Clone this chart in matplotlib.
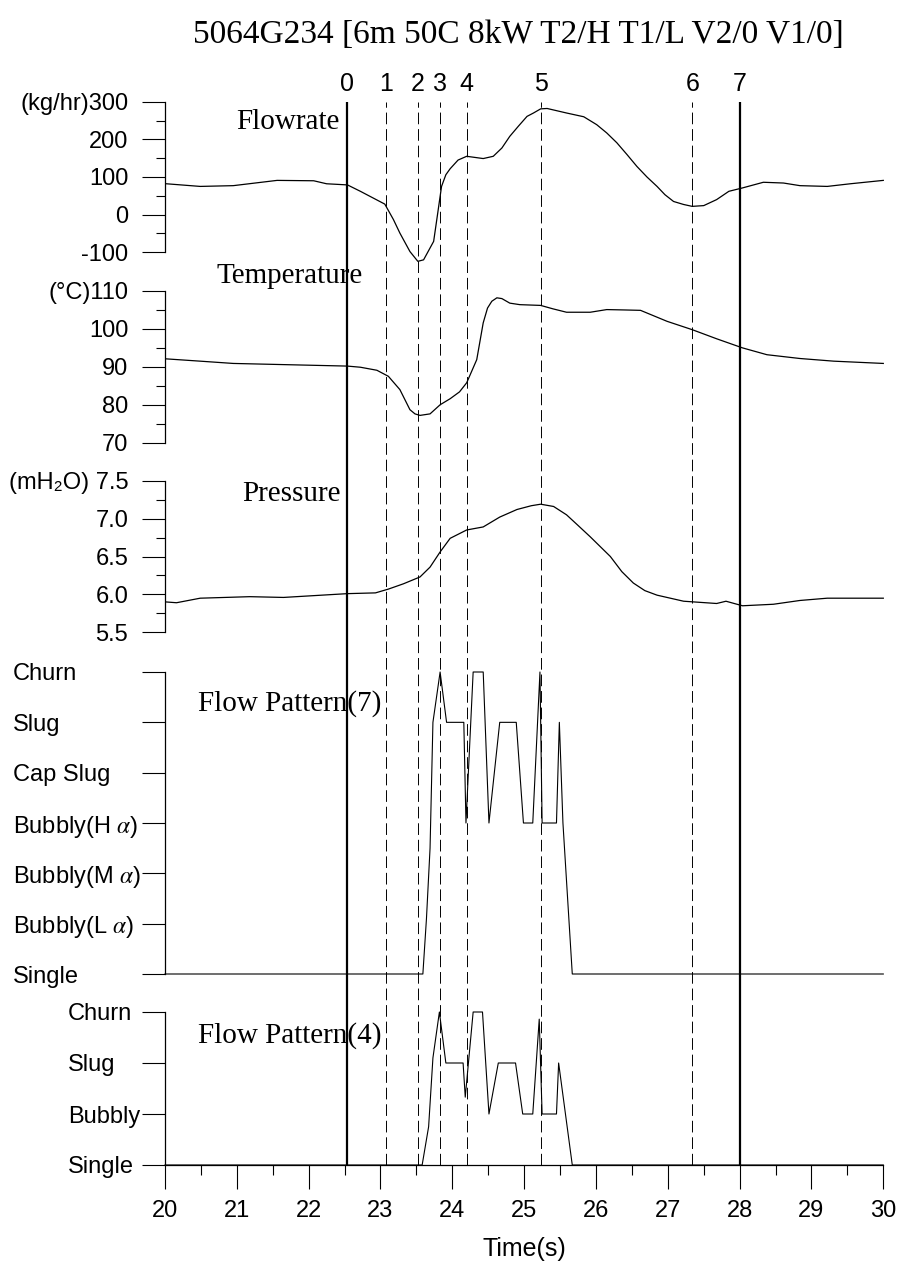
import matplotlib.pyplot as plt
from matplotlib.ticker import MultipleLocator
from matplotlib.transforms import blended_transform_factory

plt.rcParams['font.family'] = ['Liberation Sans', 'DejaVu Sans']
plt.rcParams['mathtext.fontset'] = 'stix'

title = '5064G234 [6m 50C 8kW T2/H T1/L V2/0 V1/0]'

# event markers along the time axis
event_t = [22.53, 23.08, 23.52, 23.83, 24.20, 25.23, 27.34, 28.00]
event_lbl = ['0', '1', '2', '3', '4', '5', '6', '7']

# flowrate (kg/hr)
flow_t = [20.02, 20.49, 20.95, 21.56, 22.07, 22.25, 22.54, 22.72, 22.90, 23.06,
          23.18, 23.27, 23.41, 23.52, 23.60, 23.74, 23.79, 23.85, 23.91, 23.97,
          24.08, 24.20, 24.43, 24.57, 24.69, 24.80, 24.92, 25.04, 25.13, 25.23,
          25.32, 25.59, 25.83, 26.01, 26.15, 26.29, 26.43, 26.57, 26.71, 26.85,
          26.96, 27.08, 27.22, 27.34, 27.50, 27.68, 27.85, 28.04, 28.33, 28.61,
          28.84, 29.22, 29.54, 30.00]
flow_v = [82, 75, 77, 91, 90, 82, 79, 62, 44, 28,
          -13, -49, -98, -124, -120, -71, -5, 75, 106, 122,
          145, 155, 149, 155, 177, 208, 235, 261, 270, 281,
          282, 270, 260, 239, 217, 191, 160, 128, 100, 75,
          53, 35, 27, 22, 24, 40, 62, 71, 86, 84,
          77, 75, 82, 91]

# temperature (C)
temp_t = [20.02, 20.49, 20.95, 22.54, 22.72, 22.95, 23.11, 23.27, 23.41, 23.48,
          23.55, 23.69, 23.83, 23.97, 24.10, 24.20, 24.34, 24.43, 24.49, 24.55,
          24.62, 24.69, 24.80, 24.94, 25.23, 25.40, 25.59, 25.92, 26.15, 26.40,
          26.62, 26.99, 27.34, 27.68, 28.04, 28.38, 28.84, 29.31, 30.00]
temp_v = [92.1, 91.5, 90.9, 90.2, 89.9, 89.1, 87.5, 84.0, 78.7, 77.6,
          77.2, 77.6, 80.0, 81.6, 83.4, 85.8, 91.9, 101.6, 105.5, 107.3,
          108.2, 108.0, 106.8, 106.4, 106.2, 105.3, 104.4, 104.4, 105.1, 105.0,
          104.9, 102.0, 99.8, 97.4, 95.0, 93.2, 92.2, 91.5, 90.9]

# pressure (mH2O)
pres_t = [20.02, 20.16, 20.49, 21.18, 21.65, 22.54, 22.93, 23.11, 23.32, 23.55,
          23.69, 23.83, 23.97, 24.20, 24.43, 24.66, 24.90, 25.10, 25.23, 25.41,
          25.59, 25.75, 25.92, 26.20, 26.36, 26.52, 26.68, 26.85, 27.22, 27.68,
          27.81, 28.04, 28.47, 28.84, 29.22, 30.00]
pres_v = [5.90, 5.89, 5.95, 5.97, 5.96, 6.01, 6.02, 6.07, 6.14, 6.23,
          6.36, 6.56, 6.74, 6.85, 6.89, 7.02, 7.12, 7.17, 7.19, 7.16,
          7.05, 6.91, 6.76, 6.50, 6.30, 6.15, 6.05, 5.99, 5.91, 5.88,
          5.91, 5.85, 5.87, 5.92, 5.95, 5.95]

# flow pattern, 7 classes
fp7_names = ['Single', 'Bubbly(L $\\alpha$)', 'Bubbly(M $\\alpha$)', 'Bubbly(H $\\alpha$)',
             'Cap Slug', 'Slug', 'Churn']
fp7_t = [20.00, 23.59, 23.64, 23.69, 23.73, 23.83, 23.92, 24.16, 24.19, 24.29,
         24.43, 24.51, 24.66, 24.89, 24.99, 25.12, 25.22, 25.25, 25.45, 25.49,
         25.54, 25.67, 30.00]
fp7_v = [0, 0, 1.1, 2.5, 5, 6, 5, 5, 3, 6,
         6, 3, 5, 5, 3, 3, 6, 3, 3, 5,
         3, 0, 0]

# flow pattern, 4 classes
fp4_names = ['Single', 'Bubbly', 'Slug', 'Churn']
fp4_t = [20.00, 23.58, 23.67, 23.73, 23.82, 23.91, 24.15, 24.18, 24.29, 24.42,
         24.51, 24.64, 24.88, 24.98, 25.12, 25.21, 25.25, 25.45, 25.48, 25.67,
         30.00]
fp4_v = [0, 0, 0.75, 2.1, 3, 2, 2, 1.33, 3, 3,
         1, 2, 2, 1, 1, 2.86, 1, 1, 2, 0,
         0]

W, H = 899, 1264
X0, X1 = 165, 883.3
fig = plt.figure(figsize=(W / 100, H / 100), dpi=100)
serif = ['Liberation Serif', 'DejaVu Serif']


def panel(top, bot):
    ax = fig.add_axes([X0 / W, 1 - bot / H, (X1 - X0) / W, (bot - top) / H])
    ax.set_facecolor('none')
    ax.set_xlim(20, 30)
    for s in ['top', 'right', 'bottom']:
        ax.spines[s].set_visible(False)
    ax.spines['left'].set_linewidth(0.9)
    ax.tick_params(axis='y', which='major', direction='out', length=16.5,
                   width=0.8, pad=10, labelsize=17)
    ax.tick_params(axis='y', which='minor', direction='out', length=6.5, width=0.8)
    ax.tick_params(axis='x', which='both', bottom=False, labelbottom=False)
    return ax


# event lines behind everything
ax_ev = fig.add_axes([X0 / W, 1 - 1165 / H, (X1 - X0) / W, (1165 - 101.7) / H])
ax_ev.set_xlim(20, 30)
ax_ev.set_ylim(0, 1)
ax_ev.axis('off')
for i, (t, lbl) in enumerate(zip(event_t, event_lbl)):
    if i in (0, 7):
        ax_ev.axvline(t, color='black', lw=1.6)
    else:
        ax_ev.axvline(t, color='black', lw=0.7, linestyle=(0, (12, 5)))
    ax_ev.text(t, 1.017, lbl, ha='center', va='center', fontsize=18,
               transform=blended_transform_factory(ax_ev.transData, ax_ev.transAxes))

# flowrate
ax_f = panel(101.7, 252.3)
ax_f.set_ylim(-100, 300)
ax_f.set_yticks([-100, 0, 100, 200, 300])
ax_f.set_yticklabels(['-100', '0', '100', '200', '(kg/hr)300'])
ax_f.yaxis.set_minor_locator(MultipleLocator(50))
ax_f.plot(flow_t, flow_v, color='black', lw=0.9, clip_on=False)
ax_f.text(20.99, 247, 'Flowrate', family=serif, fontsize=21, va='center')

# temperature
ax_t = panel(291, 442.7)
ax_t.set_ylim(70, 110)
ax_t.set_yticks([70, 80, 90, 100, 110])
ax_t.set_yticklabels(['70', '80', '90', '100', '(°C)110'])
ax_t.yaxis.set_minor_locator(MultipleLocator(5))
ax_t.plot(temp_t, temp_v, color='black', lw=0.9, clip_on=False)
ax_t.text(20.72, 113.9, 'Temperature', family=serif, fontsize=21, va='center')

# pressure
ax_p = panel(480.7, 632.3)
ax_p.set_ylim(5.5, 7.5)
ax_p.set_yticks([5.5, 6.0, 6.5, 7.0, 7.5])
ax_p.set_yticklabels(['5.5', '6.0', '6.5', '7.0', '(mH₂O) 7.5'])
ax_p.yaxis.set_minor_locator(MultipleLocator(0.25))
ax_p.plot(pres_t, pres_v, color='black', lw=0.9, clip_on=False)
ax_p.text(21.08, 7.33, 'Pressure', family=serif, fontsize=21, va='center')

# flow pattern (7)
ax_7 = panel(672, 974)
ax_7.set_ylim(0, 6)
ax_7.set_yticks(range(len(fp7_names)))
ax_7.set_yticklabels(fp7_names, ha='left')
ax_7.tick_params(axis='y', which='major', pad=92.9)
ax_7.plot(fp7_t, fp7_v, color='black', lw=0.8, clip_on=False)
ax_7.text(20.46, 5.38, 'Flow Pattern(7)', family=serif, fontsize=21, va='center')

# flow pattern (4) with the time axis
ax_4 = panel(1012, 1165)
ax_4.set_ylim(0, 3)
ax_4.set_yticks(range(len(fp4_names)))
ax_4.set_yticklabels(fp4_names, ha='left')
ax_4.tick_params(axis='y', which='major', pad=53.3)
ax_4.spines['bottom'].set_visible(True)
ax_4.spines['bottom'].set_linewidth(0.9)
ax_4.set_xticks(range(20, 31))
ax_4.xaxis.set_minor_locator(MultipleLocator(0.5))
ax_4.tick_params(axis='x', which='major', bottom=True, labelbottom=True,
                 direction='out', length=17, width=0.8, pad=8, labelsize=17)
ax_4.tick_params(axis='x', which='minor', bottom=True, direction='out',
                 length=7, width=0.8)
ax_4.set_xlabel('Time(s)', fontsize=18)
ax_4.xaxis.set_label_coords(0.5, -0.47)
ax_4.plot(fp4_t, fp4_v, color='black', lw=0.8, clip_on=False)
ax_4.text(20.46, 2.53, 'Flow Pattern(4)', family=serif, fontsize=21, va='center')

fig.text(518 / W, 1 - 35 / H, title, family=serif, fontsize=24,
         ha='center', va='center')

fig.savefig('out.png', dpi=100)
